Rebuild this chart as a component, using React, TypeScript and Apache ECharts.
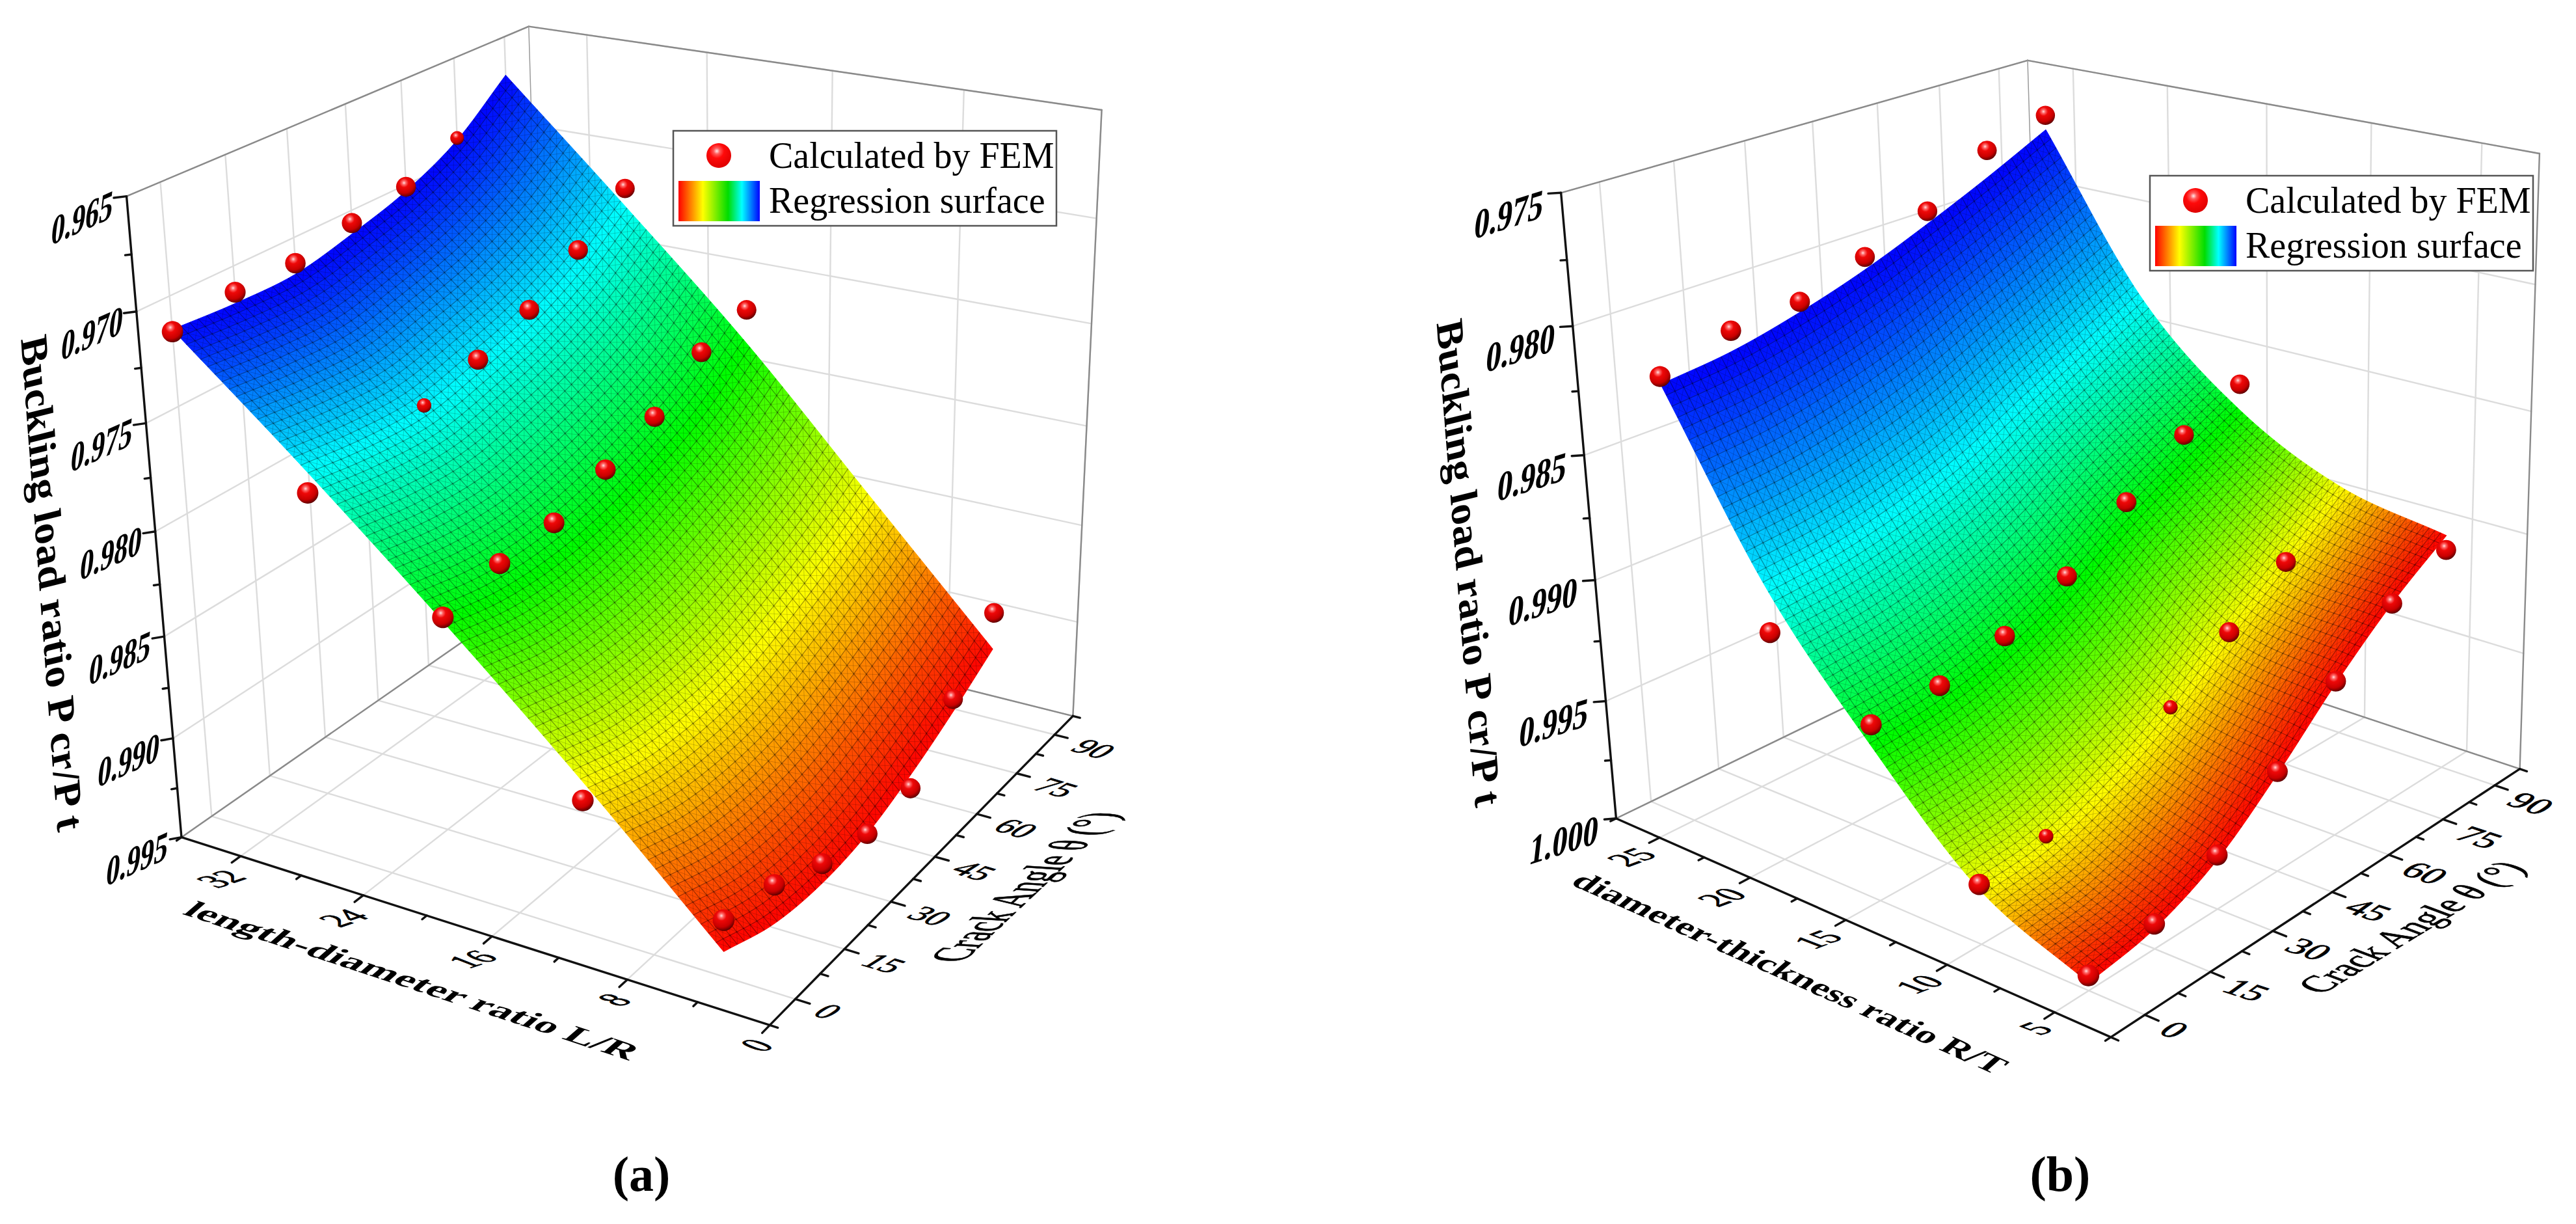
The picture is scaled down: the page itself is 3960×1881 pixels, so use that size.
import React, { useEffect, useRef } from "react";
import * as echarts from "echarts";

/* ---------- data ---------- */
// panel (a)
const aLengthDiameter = [36, 28, 20, 12, 4];
const crackAngles = [0, 15, 30, 45, 60, 75, 90];
const aSurfaceL36 = [0.9715, 0.9717, 0.9717, 0.9711, 0.9703, 0.969, 0.9669];
const aSurfaceL28 = [0.9766, 0.977, 0.9771, 0.9765, 0.9757, 0.9744, 0.9725];
const aSurfaceL20 = [0.982, 0.9826, 0.9827, 0.9823, 0.9814, 0.9802, 0.9783];
const aSurfaceL12 = [0.9877, 0.9885, 0.9887, 0.9884, 0.9875, 0.9863, 0.9848];
const aSurfaceL4 = [0.9938, 0.9948, 0.9951, 0.9948, 0.9939, 0.9927, 0.9913];
const aFem = [
  [36, 0, 0.9716], [36, 15, 0.9712], [36, 30, 0.9712], [36, 45, 0.9706], [36, 60, 0.9701], [36, 75, 0.9689],
  [28, 90, 0.9716], [28, 75, 0.9734], [28, 60, 0.975], [28, 45, 0.976], [28, 30, 0.9767], [28, 0, 0.9776],
  [20, 90, 0.9766], [20, 75, 0.9773], [20, 60, 0.979], [20, 45, 0.98], [20, 30, 0.9809], [20, 15, 0.9811], [20, 0, 0.9818],
  [12, 0, 0.9886],
  [4, 90, 0.9894], [4, 75, 0.992], [4, 60, 0.9946], [4, 45, 0.9948], [4, 30, 0.9941], [4, 15, 0.9929], [4, 0, 0.9923],
];
const aPartlyBuried = ["36/75", "28/30"];
const aZTicks = [0.965, 0.97, 0.975, 0.98, 0.985, 0.99, 0.995];
const aXTicks = [0, 8, 16, 24, 32];
// panel (b)
const bDiameterThickness = [25, 20, 15, 10, 5];
const bSurfaceR25 = [0.9822, 0.9819, 0.9813, 0.9805, 0.9795, 0.9784, 0.9772];
const bSurfaceR20 = [0.989, 0.9887, 0.9881, 0.9872, 0.9859, 0.9847, 0.9835];
const bSurfaceR15 = [0.9938, 0.9935, 0.9928, 0.9916, 0.9899, 0.9885, 0.9872];
const bSurfaceR10 = [0.9978, 0.9975, 0.9965, 0.995, 0.993, 0.9912, 0.9893];
const bSurfaceR5 = [0.9997, 0.9992, 0.998, 0.996, 0.9937, 0.9917, 0.9901];
const bFem = [
  [25, 0, 0.9819], [25, 15, 0.9811], [25, 30, 0.9809], [25, 45, 0.98], [25, 60, 0.979], [25, 75, 0.9773], [25, 90, 0.9766],
  [20, 0, 0.9907],
  [15, 90, 0.9861], [15, 75, 0.9872], [15, 60, 0.9889], [15, 45, 0.9908], [15, 30, 0.992], [15, 15, 0.9927], [15, 0, 0.9929],
  [10, 75, 0.9913], [10, 60, 0.993], [10, 45, 0.9948], [10, 15, 0.9972], [10, 0, 0.9976],
  [5, 90, 0.9907], [5, 75, 0.9917], [5, 60, 0.9936], [5, 45, 0.9959], [5, 30, 0.9978], [5, 15, 0.999], [5, 0, 0.9994],
];
const bPartlyBuried = ["10/45", "10/15"];
const bZTicks = [0.975, 0.98, 0.985, 0.99, 0.995, 1.0];
const bXTicks = [5, 10, 15, 20, 25];
const thetaTicks = [0, 15, 30, 45, 60, 75, 90];

/* ---------- perspective calibration of each box (layout, not data) ---------- */
type Cal = [number, number, number, number, number];
const aCal: Cal[] = [[36, -7.5, .965, 198, 300], [36, -7.5, .995, 281, 1286], [0, -7.5, .995, 1183, 1575], [0, 97.5, .995, 1649, 1101], [0, 97.5, .965, 1694, 169], [36, 97.5, .965, 811, 41], [36, 97.5, .995, 840, 896],
  [36, -7.5, .97, 207, 479], [36, -7.5, .975, 224, 651], [36, -7.5, .98, 241, 815], [36, -7.5, .985, 252, 981], [36, -7.5, .99, 265, 1138],
  [32, -7.5, .995, 368, 1315], [24, -7.5, .995, 557, 1375], [16, -7.5, .995, 756, 1439], [8, -7.5, .995, 963, 1505],
  [0, 0, .995, 1225, 1535], [0, 45, .995, 1437, 1315], [0, 60, .995, 1502, 1252], [0, 90, .995, 1621, 1130]];
const bCal: Cal[] = [[27.5, -7.5, .975, 2402, 296], [27.5, -7.5, 1, 2482, 1255], [2.5, -7.5, 1, 3247, 1591], [2.5, 97.5, 1, 3868, 1182], [2.5, 97.5, .975, 3906, 235], [27.5, 97.5, .975, 3112, 92], [27.5, 97.5, 1, 3149, 938],
  [27.5, -7.5, .98, 2419, 502], [27.5, -7.5, .985, 2436, 701], [27.5, -7.5, .99, 2452, 893], [27.5, -7.5, .995, 2468, 1078],
  [25, -7.5, 1, 2551, 1288], [20, -7.5, 1, 2688, 1347], [15, -7.5, 1, 2836, 1416], [10, -7.5, 1, 2991, 1482], [5, -7.5, 1, 3158, 1557],
  [2.5, 0, 1, 3298, 1560], [2.5, 45, 1, 3591, 1369], [2.5, 90, 1, 3834, 1210]];

function makeProjector(cal: Cal[], r: number[][]) {
  const nm = (a: number, i: number) => (a - r[i][0]) / (r[i][1] - r[i][0]);
  const N = Array.from({ length: 11 }, () => new Array(12).fill(0));
  const add = (row: number[], b: number) => {
    for (let i = 0; i < 11; i++) { for (let j = 0; j < 11; j++) N[i][j] += row[i] * row[j]; N[i][11] += row[i] * b; }
  };
  for (const [L, T, Z, x, y] of cal) {
    const u = nm(L, 0), v = nm(T, 1), w = nm(Z, 2);
    add([1, u, v, w, 0, 0, 0, 0, -x * u, -x * v, -x * w], x);
    add([0, 0, 0, 0, 1, u, v, w, -y * u, -y * v, -y * w], y);
  }
  for (let i = 0; i < 11; i++) {
    let m = i; for (let k = i; k < 11; k++) if (Math.abs(N[k][i]) > Math.abs(N[m][i])) m = k;
    [N[i], N[m]] = [N[m], N[i]];
    for (let k = 0; k < 11; k++) if (k !== i) { const f = N[k][i] / N[i][i]; for (let j = i; j < 12; j++) N[k][j] -= f * N[i][j]; }
  }
  const p = N.map((row, i) => row[11] / row[i]);
  return (L: number, T: number, Z: number) => {
    const u = nm(L, 0), v = nm(T, 1), w = nm(Z, 2);
    const d = 1 + p[8] * u + p[9] * v + p[10] * w;
    return [(p[0] + p[1] * u + p[2] * v + p[3] * w) / d, (p[4] + p[5] * u + p[6] * v + p[7] * w) / d, d];
  };
}

/* ---------- smooth drawing of the table ---------- */
const cr = (a: number, b: number, c: number, d: number, t: number) =>
  0.5 * (2 * b + (c - a) * t + (2 * a - 5 * b + 4 * c - d) * t * t + (3 * b - a - 3 * c + d) * t * t * t);
function cat(v: number[], s: number) {
  const n = v.length - 1; const i = Math.min(Math.floor(s), n - 1); const t = s - i;
  const at = (k: number) => (k < 0 ? 2 * v[0] - v[1] : k > n ? 2 * v[n] - v[n - 1] : v[k]);
  return cr(at(i - 1), at(i), at(i + 1), at(i + 2), t);
}
const lerpRainbow = (t: number) => {
  const st = [[0, 0, 255], [0, 255, 255], [0, 255, 0], [255, 255, 0], [255, 0, 0]];
  const x = Math.min(3.9999, Math.max(0, t * 4)); const i = Math.floor(x); const f = x - i;
  const c = st[i].map((a, k) => Math.round(a + (st[i + 1][k] - a) * f));
  return `rgb(${c[0]},${c[1]},${c[2]})`;
};

function solveText(text: string, cx: number, cy: number, font: string, m: number[], heavy = 0) {
  const [a, b, c, d] = m;
  const E = (a + d) / 2, F = (a - d) / 2, G = (b + c) / 2, H = (b - c) / 2;
  const Q = Math.hypot(E, H), R = Math.hypot(F, G);
  const a1 = Math.atan2(G, F), a2 = Math.atan2(H, E);
  const theta = (a2 - a1) / 2, phi = (a2 + a1) / 2;
  return {
    type: "group", x: cx, y: cy, rotation: -phi,
    children: [{
      type: "group", scaleX: Q + R, scaleY: Q - R,
      children: [{
        type: "text", rotation: -theta, z: 100,
        style: { text, x: 0, y: 0, font, fill: "#000", stroke: heavy ? "#000" : undefined, lineWidth: heavy, textAlign: "center", textVerticalAlign: "middle", align: "center", verticalAlign: "middle" },
      }],
    }],
  };
}

type Panel = {
  rows: number[]; table: number[][]; fem: number[][]; buried: string[];
  lr: number[]; tr: number[]; zr: number[]; xTicks: number[]; xMinor: number; zTicks: number[];
  proj: (L: number, T: number, Z: number) => number[];
  nL: number; nT: number; xTickLen: number; zTickL: number;
};

const SERIF = '"Liberation Serif"';

function panelSeries(P: Panel) {
  const { proj, lr, tr, zr } = P;
  const [Lmax, Lmin] = lr; // far, near
  const [T0, T1] = tr; const [Z0, Z1] = zr;
  const grid: number[][] = [], box: number[][] = [], thin: number[][] = [], axis: number[][] = [];
  for (const z of P.zTicks) {
    grid.push([Lmax, T0, z, Lmax, T1, z]); grid.push([Lmax, T1, z, Lmin, T1, z]);
  }
  for (const t of thetaTicks) { grid.push([Lmax, t, Z0, Lmax, t, Z1]); grid.push([Lmax, t, Z1, Lmin, t, Z1]); }
  for (const x of P.xTicks) { grid.push([x, T1, Z0, x, T1, Z1]); grid.push([x, T0, Z1, x, T1, Z1]); }
  box.push([Lmax, T0, Z0, Lmax, T1, Z0], [Lmax, T1, Z0, Lmin, T1, Z0], [Lmin, T1, Z0, Lmin, T1, Z1], [Lmax, T0, Z1, Lmax, T1, Z1], [Lmax, T1, Z1, Lmin, T1, Z1]);
  thin.push([Lmax, T1, Z0, Lmax, T1, Z1]);
  axis.push([Lmax, T0, Z0, Lmax, T0, Z1], [Lmax, T0, Z1, Lmin, T0, Z1], [Lmin, T0, Z1, Lmin, T1, Z1]);
  // ticks
  const zStep = P.zTicks[1] - P.zTicks[0];
  for (let z = Z0, k = 0; z <= Z1 + 1e-6; z += zStep / 2, k++) {
    const q = k % 2 ? 0.5 : 1;
    axis.push([Lmax, T0, z, Lmax + P.zTickL * q, T0 - 1.4 * q, z]);
  }
  for (let x = Lmin, k = 0; x <= Lmax + 1e-6; x += P.xMinor, k++) {
    const major = P.xTicks.includes(x);
    axis.push([x, T0, Z1, x, T0 - (major ? 2.2 : 1.2), Z1]);
  }
  for (let t = -7.5; t <= 97.5 + 1e-6; t += 7.5) {
    const major = thetaTicks.includes(t);
    axis.push([Lmin, t, Z1, Lmin - P.xTickLen * (major ? 1 : 0.55), t, Z1]);
  }
  const lineSeries = (segs: number[][], stroke: string, lineWidth: number, z: number) => ({
    type: "custom", coordinateSystem: "cartesian2d", silent: true, clip: false, progressive: 0, z,
    data: segs.map((_, i) => [i, i]),
    renderItem: (params: any, api: any) => {
      const s = segs[params.dataIndex];
      const a = api.coord(proj(s[0], s[1], s[2]).slice(0, 2));
      const b = api.coord(proj(s[3], s[4], s[5]).slice(0, 2));
      return { type: "line", shape: { x1: a[0], y1: a[1], x2: b[0], y2: b[1] }, style: { stroke, lineWidth, lineCap: "round" } };
    },
  });

  const { nL, nT } = P;
  const sZ = (i: number, j: number) => {
    const s = (i / nL) * (P.rows.length - 1), q = (j / nT) * (crackAngles.length - 1);
    const col = P.table.map((row) => cat(row, q));
    return cat(col, s);
  };
  const vert: number[][][] = [];
  for (let i = 0; i <= nL; i++) {
    const L = P.rows[0] + ((P.rows[P.rows.length - 1] - P.rows[0]) * i) / nL;
    const row: number[][] = [];
    for (let j = 0; j <= nT; j++) {
      const T = (90 * j) / nT;
      row.push(proj(L, T, sZ(i, j)).slice(0, 2));
    }
    vert.push(row);
  }
  const strips = Array.from({ length: nL }, (_, i) => i);
  const surface = {
    name: "Regression surface",
    type: "custom", coordinateSystem: "cartesian2d", silent: true, clip: false, progressive: 0, z: 4,
    data: strips.map((i) => [i, i]),
    renderItem: (params: any, api: any) => {
      const i = params.dataIndex;
      const color = lerpRainbow((i + 0.5) / nL);
      const pts = [...vert[i], ...[...vert[i + 1]].reverse()].map((p) => api.coord(p));
      return { type: "polygon", shape: { points: pts }, style: { fill: color, stroke: color, lineWidth: 1 } };
    },
  };
  const families: { pts: number[][]; w: number; a: number }[] = [];
  for (let i = 1; i < nL; i++) families.push({ pts: vert[i], w: 1.3, a: 0.36 });
  for (let j = 1; j < nT; j++) families.push({ pts: vert.map((r) => r[j]), w: 1.3, a: 0.36 });
  for (let k = -nL; k <= nT; k++) {
    const d1: number[][] = [], d2: number[][] = [];
    for (let i = 0; i <= nL; i++) {
      const j1 = k + i, j2 = nT - (k + i);
      if (j1 >= 0 && j1 <= nT) d1.push(vert[i][j1]);
      if (j2 >= 0 && j2 <= nT) d2.push(vert[i][j2]);
    }
    if (d1.length > 1) families.push({ pts: d1, w: 1, a: 0.18 });
    if (d2.length > 1) families.push({ pts: d2, w: 1, a: 0.18 });
  }
  const mesh = {
    type: "custom", coordinateSystem: "cartesian2d", silent: true, clip: false, progressive: 0, z: 5,
    data: families.map((_, i) => [i, i]),
    renderItem: (params: any, api: any) => {
      const f = families[params.dataIndex];
      return { type: "polyline", shape: { points: f.pts.map((p) => api.coord(p)) }, style: { fill: "none", stroke: `rgba(0,0,0,${f.a})`, lineWidth: f.w } };
    },
  };
  // FEM balls
  const dRef = proj(Lmin, T0, Z1)[2];
  const ball = new echarts.graphic.RadialGradient(0.4, 0.3, 0.72, [
    { offset: 0, color: "#ffe0e0" }, { offset: 0.13, color: "#ff6a6a" }, { offset: 0.32, color: "#ee0808" },
    { offset: 0.72, color: "#c80000" }, { offset: 1, color: "#560000" },
  ]);
  const balls = {
    name: "Calculated by FEM",
    type: "custom", coordinateSystem: "cartesian2d", silent: true, clip: false, progressive: 0, z: 6,
    data: P.fem,
    renderItem: (params: any, api: any) => {
      const L = api.value(0), T = api.value(1), Z = api.value(2);
      const q = proj(L, T, Z);
      const c = api.coord(q.slice(0, 2));
      const small = P.buried.includes(`${L}/${T}`);
      const r = 17 * Math.pow(dRef / q[2], 0.7) * (small ? 0.7 : 1);
      return { type: "circle", shape: { cx: c[0], cy: c[1], r }, style: { fill: ball } };
    },
  };
  return [lineSeries(grid, "#dcdcdc", 2.4, 1), lineSeries(box, "#8a8a8a", 2.4, 2), lineSeries(thin, "#9a9a9a", 1.5, 2), lineSeries(axis, "#111", 3.4, 3), surface, mesh, balls];
}

function legend(x0: number, y0: number) {
  const bright = new echarts.graphic.RadialGradient(0.42, 0.32, 0.7, [
    { offset: 0, color: "#ffe8e8" }, { offset: 0.18, color: "#ff5a5a" }, { offset: 0.42, color: "#ff0a0a" }, { offset: 1, color: "#dd0000" },
  ]);
  const rainbow = new echarts.graphic.LinearGradient(0, 0, 1, 0, [
    { offset: 0, color: "#ff0000" }, { offset: 0.3, color: "#ffff00" }, { offset: 0.61, color: "#00dd00" }, { offset: 0.78, color: "#00ffff" }, { offset: 1, color: "#0000ff" },
  ]);
  const font = `56px ${SERIF}`;
  return [
    { type: "rect", z: 100, shape: { x: x0, y: y0, width: 589, height: 146 }, style: { fill: "#fff", stroke: "#555", lineWidth: 2.5 } },
    { type: "circle", z: 101, shape: { cx: x0 + 70, cy: y0 + 38, r: 19 }, style: { fill: bright } },
    { type: "rect", z: 101, shape: { x: x0 + 8, y: y0 + 77, width: 125, height: 62 }, style: { fill: rainbow } },
    { type: "text", z: 101, style: { text: "Calculated by FEM", x: x0 + 147, y: y0 + 38, font, fill: "#000", textVerticalAlign: "middle", verticalAlign: "middle" } },
    { type: "text", z: 101, style: { text: "Regression surface", x: x0 + 147, y: y0 + 107, font, fill: "#000", textVerticalAlign: "middle", verticalAlign: "middle" } },
  ];
}

export default function App() {
  const ref = useRef<HTMLDivElement>(null);
  useEffect(() => {
    const chart = echarts.init(ref.current!, undefined, { renderer: "svg" });
    const aRange = [[0, 36], [-7.5, 97.5], [0.965, 0.995]];
    const bRange = [[2.5, 27.5], [-7.5, 97.5], [0.975, 1.0]];
    const pa = makeProjector(aCal, aRange);
    const pb = makeProjector(bCal, bRange);
    const A: Panel = {
      rows: aLengthDiameter, table: [aSurfaceL36, aSurfaceL28, aSurfaceL20, aSurfaceL12, aSurfaceL4], fem: aFem, buried: aPartlyBuried,
      lr: [36, 0], tr: [-7.5, 97.5], zr: [0.965, 0.995], xTicks: aXTicks, xMinor: 4, zTicks: aZTicks, proj: pa, nL: 75, nT: 45, xTickLen: 0.8, zTickL: 0.4,
    };
    const B: Panel = {
      rows: bDiameterThickness, table: [bSurfaceR25, bSurfaceR20, bSurfaceR15, bSurfaceR10, bSurfaceR5], fem: bFem, buried: bPartlyBuried,
      lr: [27.5, 2.5], tr: [-7.5, 97.5], zr: [0.975, 1.0], xTicks: bXTicks, xMinor: 2.5, zTicks: bZTicks, proj: pb, nL: 75, nT: 50, xTickLen: 0.6, zTickL: 0.3,
    };
    const zFont = `bold 50px ${SERIF}`, tickFont = `40px ${SERIF}`;
    const texts: any[] = [];
    for (const z of aZTicks) { const q = pa(36, -7.5, z); texts.push(solveText(z.toFixed(3), q[0] - 68, q[1] + 33, zFont, [0.84, -0.38, -0.15, 1.3])); }
    for (const x of aXTicks) { const q = pa(x, -7.5, 0.995); const one = x < 10; texts.push(solveText(String(x), q[0] + (one ? -20 : -30), q[1] + (one ? 31 : 35), tickFont, [1.2, -0.4, 1.33, 0.52], 0.8)); }
    for (const t of thetaTicks) { const q = pa(0, t, 0.995); const one = t < 10; texts.push(solveText(String(t), q[0] + (one ? 50 : 60), q[1] + (one ? 19 : 22), tickFont, [1.2, 0.36, -1.05, 0.66], 0.8)); }
    for (const z of bZTicks) { const q = pb(27.5, -7.5, z); texts.push(solveText(z.toFixed(3), q[0] - 80, q[1] + 33, zFont, [0.94, -0.3, -0.15, 1.3])); }
    for (const x of bXTicks) { const q = pb(x, -7.5, 1); const one = x < 10; texts.push(solveText(String(x), q[0] + (one ? -29 : -43), q[1] + (one ? 25 : 30), tickFont, [1.2, -0.45, 1.3, 0.5], 0.8)); }
    for (const t of thetaTicks) { const q = pb(2.5, t, 1); const one = t < 10; texts.push(solveText(String(t), q[0] + (one ? 45 : 55), q[1] + (one ? 23 : 28), tickFont, [1.35, 0.44, -1, 0.72], 0.8)); }
    const title = `bold 56px ${SERIF}`, sub = `bold 50px ${SERIF}`, crack = `50px ${SERIF}`;
    texts.push(solveText("Buckling load ratio P cr/P t", 80, 896, title, [0.087, 1.17, -1.05, 0.26]));
    texts.push(solveText("Buckling load ratio P cr/P t", 2258, 865, title, [0.092, 1.15, -1.05, 0.26]));
    texts.push(solveText("length-diameter ratio L/R", 634, 1507, sub, [1.246, 0.409, -0.68, 0.59]));
    texts.push(solveText("diameter-thickness ratio R/T", 2752, 1495, sub, [1.066, 0.478, -0.68, 0.6]));
    texts.push(solveText("Crack Angle θ (°)", 1574, 1363, crack, [0.687, -0.648, 1.6, 0.1], 0.8));
    texts.push(solveText("Crack Angle θ (°)", 3707, 1425, crack, [0.896, -0.548, 1.2, 0.45], 0.8));
    texts.push({ type: "text", z: 100, style: { text: "(a)", x: 986, y: 1804, font: `bold 76px ${SERIF}`, fill: "#000", textAlign: "center", align: "center", textVerticalAlign: "middle", verticalAlign: "middle" } });
    texts.push({ type: "text", z: 100, style: { text: "(b)", x: 3167, y: 1804, font: `bold 76px ${SERIF}`, fill: "#000", textAlign: "center", align: "center", textVerticalAlign: "middle", verticalAlign: "middle" } });

    chart.setOption({
      animation: false,
      backgroundColor: "#fff",
      grid: { left: 0, right: 0, top: 0, bottom: 0 },
      xAxis: { type: "value", min: 0, max: 3960, show: false },
      yAxis: { type: "value", min: 0, max: 1881, inverse: true, show: false },
      graphic: { z: 100, elements: [...legend(1035, 201), ...legend(3305, 270), ...texts] },
      series: [...panelSeries(A), ...panelSeries(B)],
    });
    return () => chart.dispose();
  }, []);
  return <div ref={ref} style={{ position: "absolute", left: 0, top: 0, width: 3960, height: 1881 }} />;
}
